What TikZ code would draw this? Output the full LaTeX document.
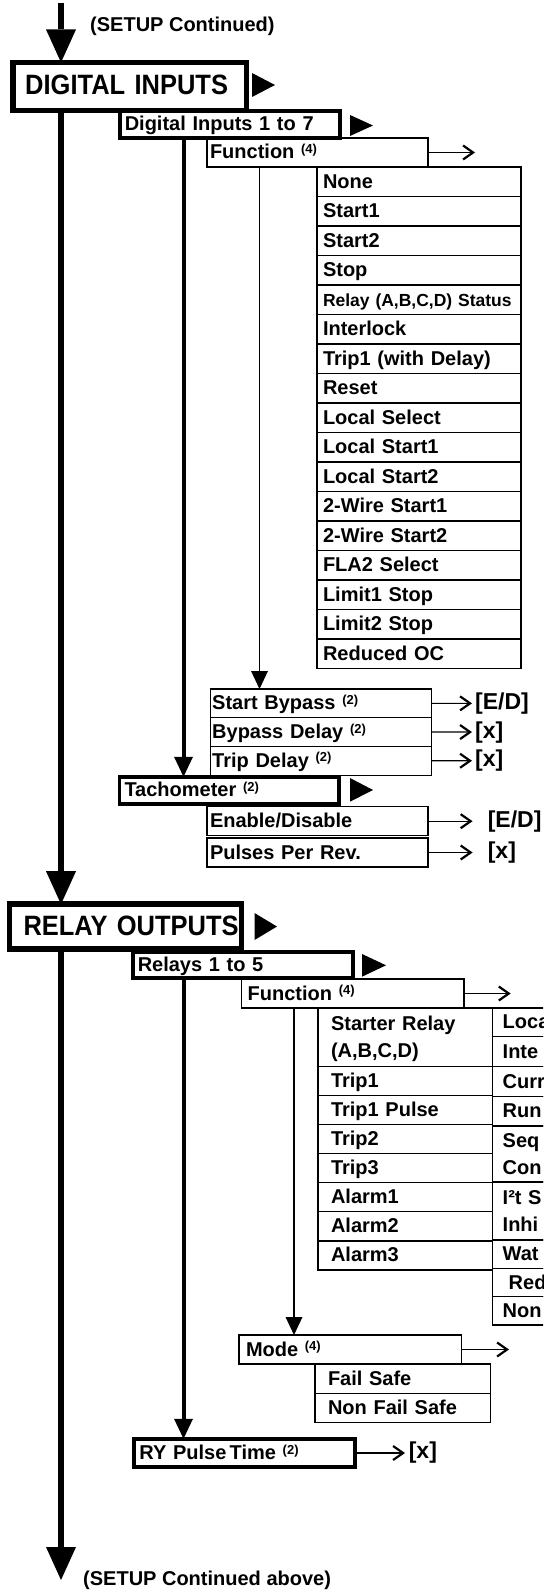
\documentclass[tikz,border=0pt]{standalone}
\usepackage{fontspec}
\setmainfont{Liberation Sans}
\newfontfamily\headfont[FakeStretch=0.91]{Liberation Sans}
\usetikzlibrary{arrows.meta}
\newcommand{\fnmark}[1]{{\fontsize{13}{13}\selectfont\raisebox{5.5pt}{(#1)}}}
\newcommand{\twoline}[2]{\begin{tabular}{@{}l@{}}#1\\#2\end{tabular}}

\begin{document}
\begin{tikzpicture}[x=1pt, y=-1pt]
  \tikzset{
    box/.style={draw, anchor=north west, outer sep=0pt, inner ysep=0pt, align=left,
      font=\bfseries\fontsize{20}{27}\selectfont, text height=16pt, text depth=3pt},
    headbox/.style={box, line width=5.5pt, inner xsep=12pt,
      font=\headfont\bfseries\fontsize{28}{30}\selectfont, text height=19pt, text depth=2pt},
    subbox/.style={box, line width=3.8pt, inner xsep=5pt, text width=210.5pt},
    cell/.style={box, line width=1.2pt},
    inlist/.style={cell, inner xsep=6pt, text width=192pt, minimum height=29.5pt},
    inpar/.style={cell, inner xsep=1.5pt, text width=218pt, minimum height=28.7pt},
    tachpar/.style={cell, inner xsep=3pt, text width=215pt, minimum height=29pt},
    outlist/.style={cell, inner xsep=13pt, text width=148.7pt, minimum height=29.07pt},
    outside/.style={cell, inner xsep=10pt, text width=60pt},
    modelist/.style={cell, inner xsep=13pt, text width=149.6pt, minimum height=29.3pt},
    val/.style={anchor=west, inner xsep=3pt, inner ysep=0pt, font=\bfseries\fontsize{23}{27}\selectfont},
    valwide/.style={val, inner xsep=15pt},
    note/.style={anchor=west, inner sep=0pt, font=\bfseries\fontsize{20}{24}\selectfont},
    trunk/.style={line width=6.5pt, -{Triangle[length=33pt, width=30pt, line width=0pt]}},
    branch/.style={line width=4pt, -{Triangle[length=20pt, width=19pt, line width=0pt]}},
    twig/.style={line width=1.5pt, -{Triangle[length=18pt, width=17pt, line width=0pt]}},
    pick/.style={line width=1.2pt, -{Straight Barb[length=10pt, width=14pt, line width=2.2pt]}}
  }
  \clip (0,0) rectangle (543,1594);

  \coordinate (top) at (61,3);
  \coordinate (bottom) at (61,1580);
  \coordinate (colB) at (183.5,0);
  \coordinate (colC) at (259.5,0);
  \coordinate (colD) at (294,0);

  \node[note] (cont-top) at (90,26) {(SETUP Continued)};

  \node[headbox, text width=209.5pt, minimum height=48pt] (dihead) at (13.2,62.5) {\mbox{DIGITAL INPUTS}};
  \fill (252,73) -- (252,97) -- (275,85) -- cycle;
  \node[subbox, minimum height=27.5pt] (dirange) at (119.75,110.75) {Digital Inputs 1 to 7};
  \fill (350,115) -- (350,136) -- (373,125.5) -- cycle;
  \node[cell, inner xsep=3pt, text width=215pt, minimum height=29pt] (difunc) at (207,138) {Function \fnmark{4}};
  \coordinate (difunc-to) at (475,152.5);

  \node[inlist] (in-none) at (317,167) {None};
  \node[inlist] (in-start1) at (317,196.5) {Start1};
  \node[inlist] (in-start2) at (317,226) {Start2};
  \node[inlist] (in-stop) at (317,255.5) {Stop};
  \node[inlist, font=\bfseries\fontsize{17.5}{21}\selectfont] (in-relay) at (317,285) {Relay (A,B,C,D) Status};
  \node[inlist] (in-interlock) at (317,314.5) {Interlock};
  \node[inlist] (in-trip1) at (317,344) {Trip1 (with Delay)};
  \node[inlist] (in-reset) at (317,373.5) {Reset};
  \node[inlist] (in-locsel) at (317,403) {Local Select};
  \node[inlist] (in-locst1) at (317,432.5) {Local Start1};
  \node[inlist] (in-locst2) at (317,462) {Local Start2};
  \node[inlist] (in-wire1) at (317,491.5) {2-Wire Start1};
  \node[inlist] (in-wire2) at (317,521) {2-Wire Start2};
  \node[inlist] (in-fla2) at (317,550.5) {FLA2 Select};
  \node[inlist] (in-limit1) at (317,580) {Limit1 Stop};
  \node[inlist] (in-limit2) at (317,609.5) {Limit2 Stop};
  \node[inlist] (in-redoc) at (317,639) {Reduced OC};

  \node[inpar] (bypass) at (210.7,689) {Start Bypass \fnmark{2}};
  \node[inpar] (bypdelay) at (210.7,717.7) {Bypass Delay \fnmark{2}};
  \node[inpar] (tripdelay) at (210.7,746.4) {Trip Delay \fnmark{2}};
  \node[val] (bypass-val) at (472,703.35) {[E/D]};
  \node[val] (bypdelay-val) at (472,732.05) {[x]};
  \node[val] (tripdelay-val) at (472,760.75) {[x]};

  \node[subbox, text width=209.7pt, minimum height=27.2pt] (tacho) at (119.5,776.75) {Tachometer \fnmark{2}};
  \fill (350,778) -- (350,801.7) -- (373,790) -- cycle;
  \node[tachpar] (tachen) at (207,806.7) {Enable/Disable};
  \node[tachpar] (tachppr) at (207,838) {Pulses Per Rev.};
  \node[valwide] (tachen-val) at (472.6,821.2) {[E/D]};
  \node[valwide] (tachppr-val) at (472.6,852.5) {[x]};

  \node[headbox, inner xsep=14pt, text width=204pt, minimum height=45pt] (rohead) at (9.5,904.2) {\mbox{RELAY OUTPUTS}};
  \fill (254.5,913) -- (254.5,940) -- (277,926.5) -- cycle;
  \node[subbox, minimum height=26.5pt] (rorange) at (132.75,951.75) {Relays 1 to 5};
  \fill (362,954) -- (362,976.7) -- (386,965.3) -- cycle;
  \node[cell, inner xsep=6pt, text width=210.3pt, minimum height=29pt] (rofunc) at (241.7,979) {Function \fnmark{4}};
  \coordinate (rofunc-to) at (510.7,993.5);

  \node[outlist, minimum height=58.5pt] (out-starter) at (318,1008) {\twoline{Starter Relay}{(A,B,C,D)}};
  \node[outlist] (out-trip1) at (318,1066.5) {Trip1};
  \node[outlist] (out-trip1p) at (318,1095.57) {Trip1 Pulse};
  \node[outlist] (out-trip2) at (318,1124.64) {Trip2};
  \node[outlist] (out-trip3) at (318,1153.71) {Trip3};
  \node[outlist] (out-alarm1) at (318,1182.78) {Alarm1};
  \node[outlist] (out-alarm2) at (318,1211.85) {Alarm2};
  \node[outlist] (out-alarm3) at (318,1240.92) {Alarm3};

  \node[outside, minimum height=28.7pt] (out-loca) at (492.7,1008) {Loca};
  \node[outside, minimum height=30pt] (out-inte) at (492.7,1036.7) {Inte};
  \node[outside, minimum height=30pt] (out-curr) at (492.7,1066.7) {Curr};
  \node[outside, minimum height=29.3pt] (out-run) at (492.7,1096.7) {Run};
  \node[outside, minimum height=56pt] (out-seq) at (492.7,1126) {\twoline{Seq}{Con}};
  \node[outside, minimum height=58pt] (out-i2t) at (492.7,1182) {\twoline{I²t S}{Inhi}};
  \node[outside, minimum height=28.3pt] (out-wat) at (492.7,1240) {Wat};
  \node[outside, minimum height=28.4pt] (out-red) at (492.7,1268.3) {\kern6pt Red};
  \node[outside, minimum height=28.3pt] (out-non) at (492.7,1296.7) {Non};

  \node[cell, inner xsep=7pt, text width=208.6pt, minimum height=29pt] (romode) at (239,1335) {Mode \fnmark{4}};
  \coordinate (romode-to) at (509,1349.5);
  \node[modelist] (out-fs) at (315,1364) {Fail Safe};
  \node[modelist] (out-nfs) at (315,1393.3) {Non Fail Safe};

  \node[subbox, minimum height=28.5pt] (rypulse) at (134.35,1438.75) {RY Pulse\,Time \fnmark{2}};
  \node[val, inner xsep=3.6pt] (rypulse-val) at (405,1453) {[x]};

  \node[note] (cont-bottom) at (83,1580) {(SETUP Continued above)};

  \draw[trunk] (top) -- (top |- dihead.north);
  \draw[trunk] (top |- dihead.south) -- (top |- rohead.north);
  \draw[trunk] (top |- rohead.south) -- (bottom);

  \draw[branch] (colB |- dirange.south) -- (colB |- tacho.north);
  \draw[twig] (colC |- difunc.south) -- (colC |- bypass.north);
  \draw[branch] (colB |- rorange.south) -- (colB |- rypulse.north);
  \draw[twig] (colD |- rofunc.south) -- (colD |- romode.north);

  \draw[pick] (difunc) -- (difunc-to);
  \draw[pick] (bypass) -- (bypass-val);
  \draw[pick] (bypdelay) -- (bypdelay-val);
  \draw[pick] (tripdelay) -- (tripdelay-val);
  \draw[pick] (tachen) -- (tachen-val);
  \draw[pick] (tachppr) -- (tachppr-val);
  \draw[pick] (rofunc) -- (rofunc-to);
  \draw[pick] (romode) -- (romode-to);
  \draw[pick] (rypulse) -- (rypulse-val);
\end{tikzpicture}
\end{document}
